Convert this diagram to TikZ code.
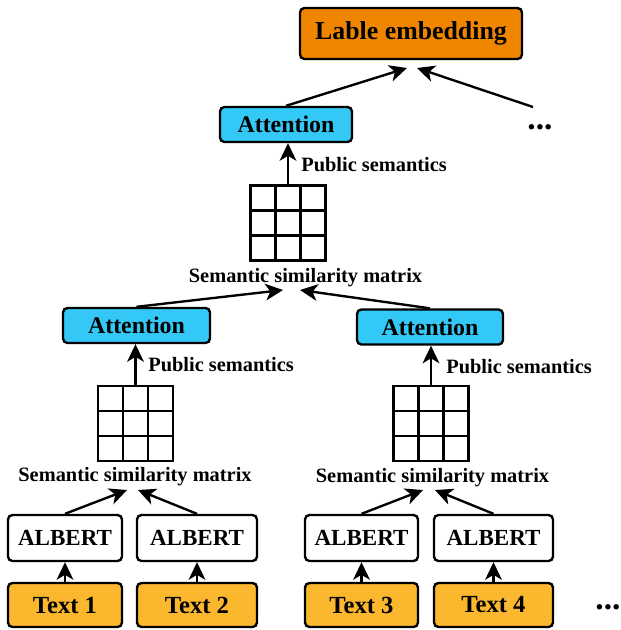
\documentclass[tikz,border=0pt]{standalone}
\usepackage{fontspec}
\setmainfont{Liberation Serif}
\usetikzlibrary{arrows.meta}
\definecolor{cOrange}{RGB}{240,134,0}
\definecolor{cCyan}{RGB}{51,200,245}
\definecolor{cGold}{RGB}{251,184,46}
\tikzset{
  lw/.style={line width=1.35pt},
  bx/.style={draw, lw, rounded corners=2.5pt, inner sep=0pt, text=black},
  attbox/.style={bx, fill=cCyan, minimum height=0.7cm, font=\fontsize{13.6}{15}\selectfont\bfseries},
  albbox/.style={bx, fill=white, minimum height=0.92cm, font=\fontsize{13.1}{15}\selectfont\bfseries},
  txtbox/.style={bx, fill=cGold, minimum height=0.88cm, font=\fontsize{14}{16}\selectfont\bfseries},
  lbl/.style={inner sep=0pt, font=\fontsize{11.6}{13}\selectfont\bfseries},
  arr/.style={lw, -{Stealth[length=10pt,width=9.5pt,inset=2.8pt]}},
  mat/.style={draw, lw, minimum size=1.5cm, inner sep=0pt, path picture={
    \foreach \s in {-0.25cm,0.25cm}{
      \draw[line width=1.35pt] ([xshift=\s]path picture bounding box.north) -- ([xshift=\s]path picture bounding box.south);
      \draw[line width=1.35pt] ([yshift=\s]path picture bounding box.west) -- ([yshift=\s]path picture bounding box.east);
    }}},
  dots/.style={inner sep=0pt, font=\fontsize{19}{20}\selectfont\bfseries}
}
\begin{document}
\begin{tikzpicture}[x=0.02cm,y=-0.02cm]
\useasboundingbox (0,0) rectangle (620,630);
% top
\node[bx, fill=cOrange, minimum width=4.44cm, minimum height=1.02cm, font=\fontsize{14.7}{16}\selectfont\bfseries] (lab) at (411,33.5) {Lable embedding};
\node[attbox, minimum width=2.64cm] (att0) at (286,124.5) {Attention};
\node[mat] (m0) at (288,223) {};
\node[lbl, anchor=west] (p0) at (301,165) {Public semantics};
\node[lbl] (s0) at (305.5,278) {Semantic similarity matrix};
\node[dots] (d0) at (540,127) {...};
\coordinate (r0) at (533,107);
\coordinate (la) at (407,68);
\coordinate (lb) at (417,68);
\draw[arr] (att0.north) -- (la);
\draw[arr] (r0) -- (lb);
\draw[arr] (m0.north) -- (m0.north |- att0.south);
% middle level
\node[attbox, minimum width=2.94cm] (att1) at (136.5,325.5) {Attention};
\node[attbox, minimum width=2.92cm] (att2) at (430,327) {Attention};
\coordinate (t0a) at (283,290);
\coordinate (t0b) at (300,290);
\draw[arr] (att1.north) -- (t0a);
\draw[arr] (att2.north) -- (t0b);
\node[mat] (m1) at (135.5,423.5) {};
\node[mat] (m2) at (431,423.5) {};
\draw[arr] (m1.north) -- (m1.north |- att1.south);
\draw[arr] (m2.north) -- (m2.north |- att2.south);
\node[lbl, anchor=west] (p1) at (148,365) {Public semantics};
\node[lbl, anchor=west] (p2) at (446,367) {Public semantics};
\node[lbl] (s1) at (135,477) {Semantic similarity matrix};
\node[lbl] (s2) at (432.5,478) {Semantic similarity matrix};
% bottom
\node[albbox, minimum width=2.28cm] (alb1) at (65,538) {ALBERT};
\node[albbox, minimum width=2.40cm] (alb2) at (197,538) {ALBERT};
\node[albbox, minimum width=2.26cm] (alb3) at (361.5,538) {ALBERT};
\node[albbox, minimum width=2.38cm] (alb4) at (493.5,538) {ALBERT};
\node[txtbox, minimum width=2.28cm] (txt1) at (65,605) {Text 1};
\node[txtbox, minimum width=2.40cm] (txt2) at (197,605) {Text 2};
\node[txtbox, minimum width=2.26cm] (txt3) at (361.5,605) {Text 3};
\node[txtbox, minimum width=2.38cm] (txt4) at (493.5,605) {Text 4};
\node[dots] (d1) at (608,607) {...};
\foreach \i in {1,2,3,4}{
  \draw[arr] (txt\i.north) -- (alb\i.south);
}
\coordinate (t1a) at (127,490);
\coordinate (t1b) at (138,490);
\coordinate (t2a) at (423,490);
\coordinate (t2b) at (435,490);
\draw[arr] (alb1.north) -- (t1a);
\draw[arr] (alb2.north) -- (t1b);
\draw[arr] (alb3.north) -- (t2a);
\draw[arr] (alb4.north) -- (t2b);
\end{tikzpicture}
\end{document}
